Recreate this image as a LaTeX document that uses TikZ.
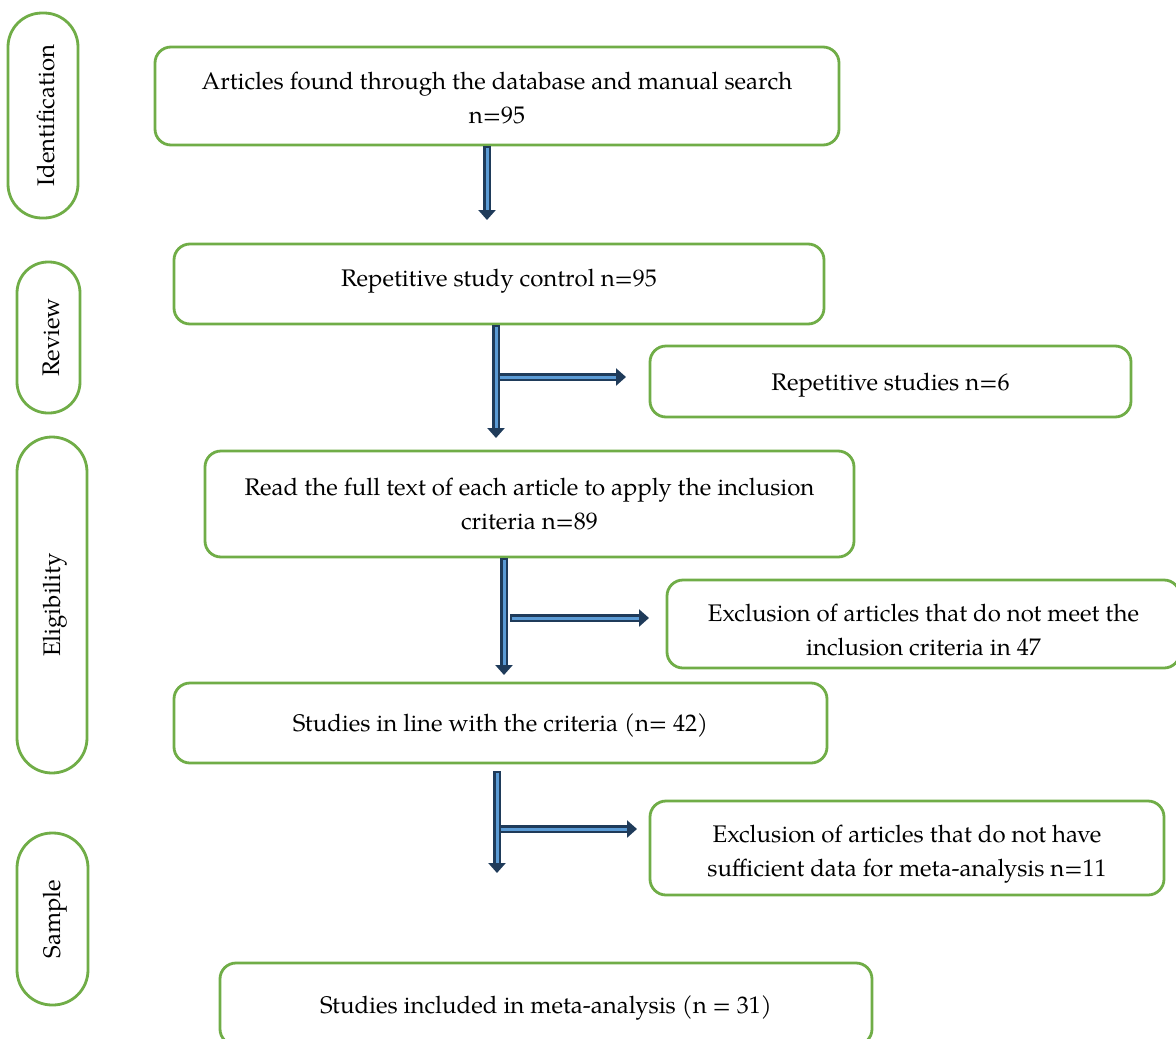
\documentclass[tikz,border=0pt]{standalone}
\usepackage{fontspec}
\setmainfont{TeX Gyre Pagella}
\usetikzlibrary{arrows.meta}
\definecolor{boxgreen}{HTML}{70AD47}
\definecolor{arrdark}{HTML}{1F3B5A}
\definecolor{arrlight}{HTML}{5B9BD5}
\begin{document}
\begin{tikzpicture}[x=1pt,y=-1pt,
  box/.style={draw=boxgreen, line width=2.8pt, rounded corners=16pt, inner sep=0pt,
    align=center, font=\fontsize{24}{34}\selectfont},
  side/.style={draw=boxgreen, line width=2.8pt, inner sep=0pt,
    font=\fontsize{24}{34}\selectfont},
  sidetext/.style={rotate=90, font=\fontsize{24}{34}\selectfont},
  barrow/.style={draw=arrdark, line width=7.5pt, -{Triangle[length=10pt,width=17pt]},
    postaction={draw=arrlight, line width=3pt, -, shorten >=10pt, shorten <=1.5pt}}
]
\fill[white] (0,0) rectangle (1176,1039);
\useasboundingbox (0,0) rectangle (1176,1039);

% side labels
\draw[side, rounded corners=34pt] (8,13) rectangle (78,218);
\node[sidetext] (lid) at (46,115.5) {Identification};
\draw[side, rounded corners=31pt] (17,262) rectangle (80,413);
\node[sidetext] (lrev) at (51,337.5) {Review};
\draw[side, rounded corners=35pt] (17,437) rectangle (87,773);
\node[sidetext] (lel) at (55,605) {Eligibility};
\draw[side, rounded corners=35pt] (17,833) rectangle (88,1005);
\node[sidetext] (lsa) at (55,919) {Sample};

% main boxes
\node[box, minimum width=684pt, minimum height=98pt] (b1) at (497,96)
  {\mbox{}\\[-13pt]Articles found through the database and manual search\\n=95};
\node[box, minimum width=650pt, minimum height=80pt] (b2) at (499,284)
  {Repetitive study control n=95\\[-22pt]\mbox{}};
\node[box, minimum width=481pt, minimum height=71pt] (b3) at (890.5,381.5)
  {\mbox{}\\[-9pt]Repetitive studies n=6};
\node[box, minimum width=649pt, minimum height=106pt] (b4) at (529.5,504)
  {Read the full text of each article to apply the inclusion\\criteria n=89};
\node[box, minimum width=513pt, minimum height=88pt] (b5) at (923.5,624)
  {\mbox{}\\[-5pt]Exclusion of articles that do not meet the\\inclusion criteria in 47};
\node[box, minimum width=653pt, minimum height=80pt] (b6) at (500.5,723)
  {\mbox{}\\[-11pt]Studies in line with the criteria (n= 42)};
\node[box, minimum width=514pt, minimum height=94pt] (b7) at (907,848)
  {\mbox{}\\[-5pt]Exclusion of articles that do not have\\sufficient data for meta-analysis n=11};
\node[box, minimum width=652pt, minimum height=82pt] (b8) at (546,1004)
  {\mbox{}\\[-9pt]Studies included in meta-analysis (n = 31)};

% arrow end points
\coordinate (a1e) at (487,220);
\coordinate (a2e) at (496,438);
\coordinate (a2j) at (498,377);
\coordinate (a2h) at (626,377);
\coordinate (a3e) at (504,675);
\coordinate (a3j) at (510,618);
\coordinate (a3h) at (649,618);
\coordinate (a4s) at (497,771);
\coordinate (a4e) at (497,873);
\coordinate (a4j) at (499,829);
\coordinate (a4h) at (637,829);

% arrows
\draw[barrow] (b1.south -| a1e) -- (a1e);
\draw[barrow] (b2.south -| a2e) -- (a2e);
\draw[barrow] (a2j) -- (a2h);
\draw[barrow] (b4.south -| a3e) -- (a3e);
\draw[barrow] (a3j) -- (a3h);
\draw[barrow] (a4s) -- (a4e);
\draw[barrow] (a4j) -- (a4h);
\end{tikzpicture}
\end{document}
